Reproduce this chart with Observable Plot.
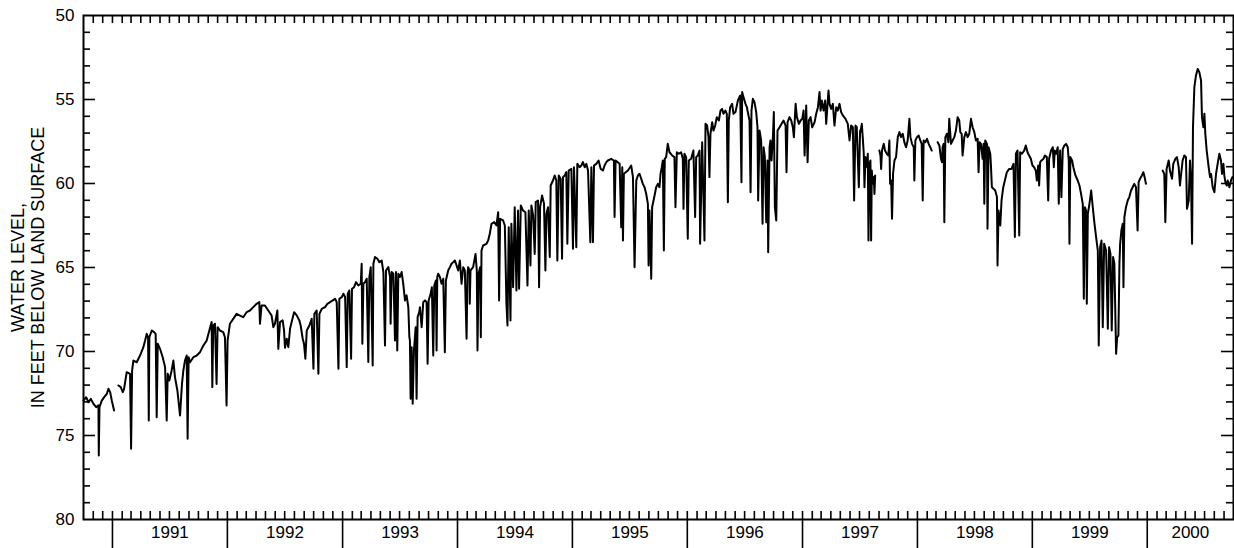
<!DOCTYPE html>
<html><head><meta charset="utf-8">
<script src="https://cdn.jsdelivr.net/npm/d3@7"></script>
<script src="https://cdn.jsdelivr.net/npm/@observablehq/plot@0.6"></script>
<style>html,body{margin:0;padding:0;background:#fff;} svg{display:block}</style>
</head><body><div id="chart"></div>
<script>
// Daily water level, feet below land surface; [decimal year, level]; null = gap in record
const trace1990_1992 = [
[1990.748,72.92],[1990.771,72.72],[1990.791,73.02],[1990.812,72.82],[1990.835,73.12],[1990.858,73.31],[1990.878,73.21],[1990.881,76.19],[1990.887,73.31],[1990.907,72.92],[1990.928,72.72],[1990.951,72.52],[1990.965,72.22],[1990.980,72.42],[1990.994,72.92],[1991.014,73.51],
[1991.033,null],
[1991.052,72.02],[1991.072,72.12],[1991.090,72.42],[1991.101,72.22],[1991.124,71.23],[1991.153,71.33],[1991.162,75.79],[1991.171,71.13],[1991.182,70.54],[1991.211,70.64],[1991.240,70.24],[1991.269,69.74],[1991.284,69.35],[1991.298,68.95],[1991.310,69.15],[1991.316,74.11],[1991.321,69.15],[1991.342,68.75],[1991.362,68.85],[1991.376,68.95],[1991.385,73.91],[1991.394,69.54],[1991.414,69.84],[1991.437,70.34],[1991.458,70.93],[1991.472,74.11],[1991.481,71.33],[1991.495,71.73],[1991.515,71.13],[1991.530,70.54],[1991.544,71.53],[1991.565,72.32],[1991.588,73.81],[1991.605,71.93],[1991.617,71.13],[1991.631,70.54],[1991.646,70.24],[1991.654,75.20],[1991.663,70.34],[1991.675,70.64],[1991.704,70.34],[1991.733,70.24],[1991.762,70.04],[1991.791,69.64],[1991.820,69.35],[1991.843,68.75],[1991.863,68.25],[1991.869,72.12],[1991.877,68.45],[1991.892,68.35],[1991.906,71.93],[1991.915,68.55],[1991.935,68.75],[1991.964,68.85],[1991.979,69.15],[1991.993,73.21],[1992.002,69.35],[1992.022,68.35],[1992.051,68.06],[1992.080,67.76],[1992.109,67.86],[1992.138,67.96],[1992.167,67.66],[1992.196,67.56],[1992.225,67.36],[1992.254,67.16],[1992.277,67.06],[1992.283,68.35],[1992.297,67.26],[1992.326,67.26],[1992.355,67.56],[1992.384,67.86]
];
const trace1992_1994 = [
[1992.399,68.55],[1992.413,68.35],[1992.434,67.56],[1992.442,69.84],[1992.457,68.25],[1992.480,68.15],[1992.492,68.75],[1992.500,69.78],[1992.515,69.24],[1992.529,69.74],[1992.544,68.65],[1992.558,68.25],[1992.579,67.66],[1992.602,67.85],[1992.625,68.15],[1992.636,68.45],[1992.654,69.24],[1992.665,69.54],[1992.677,70.43],[1992.689,68.75],[1992.712,68.45],[1992.732,68.05],[1992.747,71.03],[1992.755,67.76],[1992.775,67.56],[1992.790,71.33],[1992.799,67.76],[1992.819,67.46],[1992.848,67.36],[1992.868,67.16],[1992.891,67.06],[1992.915,66.96],[1992.935,66.86],[1992.949,67.06],[1992.964,71.03],[1992.972,66.86],[1992.993,66.76],
[1993.007,66.56],[1993.022,66.76],[1993.036,70.93],[1993.045,66.56],[1993.059,66.37],[1993.074,70.43],[1993.082,66.27],[1993.100,66.17],[1993.117,65.87],[1993.137,66.07],[1993.158,65.97],[1993.166,64.78],[1993.172,69.54],[1993.181,65.97],[1993.195,65.87],[1993.210,65.67],[1993.224,70.63],[1993.233,65.57],[1993.245,64.98],[1993.262,70.83],[1993.268,64.78],[1993.282,64.38],[1993.303,64.48],[1993.320,64.68],[1993.340,64.58],[1993.355,65.27],[1993.369,69.64],[1993.378,65.18],[1993.398,64.98],[1993.413,65.57],[1993.418,68.35],[1993.427,65.27],[1993.442,65.37],[1993.456,69.34],[1993.465,65.27],[1993.476,69.94],[1993.485,65.37],[1993.499,65.57],[1993.514,65.27],[1993.528,65.97],[1993.543,66.96],[1993.557,66.66],[1993.572,67.36],[1993.581,69.14],[1993.586,69.34],[1993.592,72.81],[1993.601,69.74],[1993.610,73.11],[1993.621,69.94],[1993.636,68.55],[1993.644,72.81],[1993.653,67.95],[1993.667,67.66],[1993.673,67.36],[1993.688,68.55],[1993.702,67.06],[1993.717,66.96],[1993.731,67.06],[1993.740,70.73],[1993.749,66.96],[1993.766,66.56],[1993.777,66.17],[1993.789,70.24],[1993.798,66.07],[1993.812,65.77],[1993.818,69.94],[1993.824,65.57],[1993.832,65.37],[1993.847,65.57],[1993.861,65.97],[1993.876,65.67],[1993.890,70.04],[1993.899,65.77],[1993.919,65.18],[1993.934,64.98],[1993.948,64.78],[1993.963,64.68],[1993.977,64.58],[1993.992,64.88],
[1994.006,65.18],[1994.021,64.58],[1994.035,65.97],[1994.050,64.98],[1994.064,65.18],[1994.079,69.24],[1994.087,65.37]
];
const trace1994_1995 = [
[1994.093,64.98],[1994.105,65.18],[1994.107,67.16],[1994.113,65.18],[1994.136,64.98],[1994.157,64.19],[1994.168,65.18],[1994.174,69.94],[1994.183,65.38],[1994.197,64.98],[1994.203,69.15],[1994.209,63.99],[1994.223,63.69],[1994.252,63.59],[1994.267,63.39],[1994.281,62.99],[1994.296,62.40],[1994.319,62.30],[1994.339,62.50],[1994.354,61.71],[1994.362,66.96],[1994.371,62.10],[1994.397,62.20],[1994.412,62.50],[1994.426,67.16],[1994.435,68.45],[1994.446,62.60],[1994.461,68.15],[1994.469,62.40],[1994.484,66.17],[1994.498,61.41],[1994.513,66.37],[1994.527,61.61],[1994.536,66.27],[1994.551,61.31],[1994.571,61.61],[1994.591,61.71],[1994.609,66.07],[1994.620,61.61],[1994.635,64.88],[1994.643,61.31],[1994.658,61.90],[1994.672,64.19],[1994.681,61.11],[1994.701,61.01],[1994.710,66.17],[1994.719,61.41],[1994.736,60.71],[1994.753,61.21],[1994.765,65.18],[1994.774,61.80],[1994.788,61.41],[1994.803,64.38],[1994.811,60.12],[1994.831,59.82],[1994.846,59.52],[1994.860,59.82],[1994.869,64.58],[1994.881,59.52],[1994.898,59.72],[1994.910,64.48],[1994.918,59.62],[1994.933,59.52],[1994.947,59.32],[1994.956,63.59],[1994.968,59.23],[1994.991,59.13],
[1995.005,63.89],[1995.014,59.03],[1995.034,63.79],[1995.043,58.83],[1995.063,59.03],[1995.078,58.93],[1995.092,58.73],[1995.107,59.03],[1995.121,58.83],[1995.136,59.23],[1995.156,63.49],[1995.165,59.03],[1995.179,63.49],[1995.188,58.93],[1995.208,58.83],[1995.228,58.63],[1995.246,59.13],[1995.266,59.23],[1995.280,58.93],[1995.295,58.73],[1995.309,58.63],[1995.338,58.53],[1995.361,58.63],[1995.367,62.00],[1995.376,58.63],[1995.411,58.83],[1995.425,62.60],[1995.434,59.03],[1995.440,63.39],[1995.448,59.42],[1995.483,59.23],[1995.512,58.93],[1995.527,59.62],[1995.541,64.98],[1995.556,59.82],[1995.570,59.52],[1995.584,59.42],[1995.599,59.72],[1995.613,60.02],[1995.628,60.22],[1995.642,60.61],[1995.657,61.21],[1995.663,64.88],[1995.671,61.61],[1995.686,65.67],[1995.694,61.41],[1995.715,60.71],[1995.729,60.22],[1995.744,60.02],[1995.758,60.22],[1995.767,59.42],[1995.778,59.03]
];
const trace1995_1997 = [
[1995.787,58.63],[1995.796,63.99],[1995.804,58.53],[1995.816,58.43],[1995.830,57.64],[1995.845,58.14],[1995.868,58.33],[1995.888,58.43],[1995.897,61.41],[1995.909,58.14],[1995.926,58.23],[1995.946,58.14],[1995.961,58.53],[1995.967,61.51],[1995.975,58.23],[1995.990,58.43],
[1996.004,63.29],[1996.013,58.63],[1996.033,58.53],[1996.053,58.04],[1996.068,62.00],[1996.077,58.43],[1996.091,58.33],[1996.106,58.04],[1996.111,63.59],[1996.129,57.54],[1996.149,63.39],[1996.158,56.45],[1996.172,56.55],[1996.184,57.24],[1996.192,59.62],[1996.201,57.04],[1996.216,56.35],[1996.227,56.85],[1996.242,56.55],[1996.256,56.05],[1996.274,56.25],[1996.288,55.66],[1996.302,55.56],[1996.314,55.85],[1996.331,55.66],[1996.343,55.85],[1996.352,61.11],[1996.360,56.25],[1996.372,55.46],[1996.389,55.26],[1996.401,55.85],[1996.418,55.75],[1996.439,55.06],[1996.459,54.76],[1996.470,59.92],[1996.476,54.56],[1996.488,54.86],[1996.505,55.26],[1996.517,55.46],[1996.528,55.85],[1996.540,56.25],[1996.549,60.52],[1996.557,55.66],[1996.569,54.96],[1996.583,55.16],[1996.598,55.75],[1996.609,56.65],[1996.615,61.01],[1996.627,56.85],[1996.641,57.44],[1996.653,62.40],[1996.662,57.84],[1996.673,58.43],[1996.685,62.30],[1996.696,58.63],[1996.702,64.09],[1996.714,57.84],[1996.722,57.44],[1996.731,58.63],[1996.743,57.24],[1996.751,55.75],[1996.760,61.41],[1996.772,62.20],[1996.783,56.85],[1996.801,56.65],[1996.818,56.45],[1996.835,56.25],[1996.853,56.55],[1996.861,59.33],[1996.870,56.35],[1996.887,56.05],[1996.902,56.25],[1996.916,56.65],[1996.925,57.24],[1996.940,55.26],[1996.951,56.05],[1996.969,56.45],[1996.983,56.25],[1996.998,56.15],
[1997.009,55.66],[1997.018,58.33],[1997.032,55.36],[1997.044,58.73],[1997.055,56.25],[1997.070,56.05],[1997.084,56.65],[1997.105,56.35],[1997.119,55.85],[1997.134,55.46],[1997.148,54.56],[1997.157,55.66],[1997.168,55.06],[1997.183,55.66],[1997.197,55.06],[1997.206,56.45],[1997.226,54.47],[1997.235,55.26],[1997.249,55.56],[1997.264,55.26],[1997.278,56.55],[1997.293,55.46],[1997.307,55.66],[1997.322,55.26],[1997.336,55.75],[1997.351,55.95],[1997.374,56.15],[1997.394,56.45],[1997.409,57.44],[1997.423,56.55],[1997.438,56.65],[1997.449,61.01],[1997.461,56.55],[1997.472,56.65],[1997.490,60.22],[1997.501,56.85]
];
const trace1997_1999 = [
[1997.504,56.94],[1997.516,56.45],[1997.524,57.24],[1997.533,58.23],[1997.539,60.22],[1997.548,58.43],[1997.562,59.03],[1997.568,58.23],[1997.574,63.39],[1997.582,58.83],[1997.591,58.63],[1997.597,63.39],[1997.603,59.23],[1997.611,60.02],[1997.620,59.62],[1997.626,60.62],[1997.632,59.52],
[1997.650,null],
[1997.669,58.04],[1997.678,58.33],[1997.684,59.13],[1997.692,58.04],[1997.707,57.64],[1997.718,58.04],[1997.733,58.23],[1997.747,58.33],[1997.756,57.44],[1997.762,60.02],[1997.771,59.82],[1997.779,62.10],[1997.788,59.42],[1997.800,58.63],[1997.814,58.43],[1997.829,57.24],[1997.843,56.94],[1997.857,57.24],[1997.872,57.04],[1997.886,57.54],[1997.901,57.84],[1997.915,57.44],[1997.930,56.15],[1997.939,57.24],[1997.953,57.64],[1997.968,57.84],[1997.973,59.82],[1997.982,57.44],[1997.996,57.24],
[1998.011,57.14],[1998.025,57.44],[1998.037,57.64],[1998.046,61.01],[1998.054,57.44],[1998.069,57.54],[1998.083,57.34],[1998.098,57.64],[1998.112,57.84],[1998.124,58.04],
[1998.150,null],
[1998.176,57.54],[1998.191,57.74],[1998.205,58.53],[1998.214,58.73],[1998.219,57.84],[1998.228,57.64],[1998.234,62.30],[1998.243,57.24],[1998.257,57.04],[1998.269,57.54],[1998.277,56.15],[1998.292,57.64],[1998.306,57.44],[1998.321,57.24],[1998.335,56.85],[1998.350,56.05],[1998.364,56.25],[1998.373,56.94],[1998.385,57.04],[1998.393,58.33],[1998.408,57.24],[1998.422,56.94],[1998.437,57.24],[1998.451,57.04],[1998.466,56.15],[1998.480,56.65],[1998.495,56.94],[1998.509,57.44],[1998.524,57.34],[1998.532,59.33],[1998.541,57.54],[1998.553,57.64],[1998.567,58.53],[1998.576,57.64],[1998.582,61.21],[1998.590,57.44],[1998.605,57.64],[1998.610,62.70],[1998.619,57.84],[1998.634,58.23],[1998.639,58.83],[1998.648,60.22],[1998.663,60.32],[1998.677,60.42],[1998.692,60.81],[1998.697,64.88],[1998.706,61.61],[1998.721,62.50],[1998.732,61.01],[1998.747,60.22],[1998.761,59.82],[1998.778,59.33],[1998.799,59.13],[1998.819,59.13],[1998.836,58.83],[1998.848,63.19],[1998.857,58.23],[1998.871,58.04],[1998.886,63.09],[1998.894,58.14],[1998.909,58.23],[1998.929,58.04],[1998.943,57.74],[1998.958,58.14],[1998.972,58.33],[1998.987,58.53],
[1999.001,58.93],[1999.016,59.03],[1999.030,59.23],[1999.039,59.82],[1999.051,58.93],[1999.059,60.12],[1999.068,58.73],[1999.080,58.63],[1999.097,58.53],[1999.109,58.33],[1999.126,58.43],[1999.138,61.01],[1999.146,58.53]
];
const trace1999_2000 = [
[1999.163,58.04],[1999.178,57.84],[1999.187,59.03],[1999.195,58.04],[1999.207,58.23],[1999.221,57.84],[1999.230,61.21],[1999.242,58.04],[1999.253,60.81],[1999.265,57.94],[1999.279,57.74],[1999.294,57.64],[1999.308,57.84],[1999.317,58.63],[1999.323,63.59],[1999.331,58.43],[1999.346,58.63],[1999.357,59.03],[1999.375,59.52],[1999.395,59.82],[1999.410,60.12],[1999.424,60.62],[1999.439,61.21],
[1999.448,66.86],[1999.457,61.41],[1999.468,61.61],[1999.474,67.16],[1999.483,61.81],[1999.497,61.21],[1999.512,60.42],[1999.526,61.41],[1999.541,62.40],[1999.555,63.19],[1999.570,63.99],[1999.578,69.64],[1999.590,63.79],[1999.602,63.39],[1999.613,68.55],[1999.625,63.59],[1999.642,63.99],[1999.657,68.65],[1999.668,63.79],[1999.680,64.19],[1999.691,68.75],[1999.703,64.38],[1999.714,64.78],[1999.729,70.14],[1999.738,69.15],[1999.749,69.05],[1999.758,64.78],[1999.764,63.59],[1999.775,62.80],[1999.787,62.40],[1999.793,66.17],[1999.801,62.00],
[1999.815,61.41],[1999.830,61.01],[1999.844,60.81],[1999.859,60.42],[1999.873,60.22],[1999.887,60.02],[1999.902,60.22],[1999.916,62.80],[1999.925,59.92],[1999.937,59.72],[1999.954,59.52],[1999.966,59.33],[1999.974,59.52],[1999.989,60.02],
[2000.060,null],
[2000.134,59.23],[2000.148,59.43],[2000.157,62.30],[2000.168,59.13],[2000.186,58.63],[2000.197,59.23],[2000.215,59.72],[2000.226,58.83],[2000.244,58.53],[2000.258,58.43],[2000.273,59.03],[2000.284,60.12],[2000.296,59.33],[2000.307,58.63],[2000.322,58.33],[2000.336,58.43],[2000.345,61.51],[2000.360,61.01],[2000.371,58.63],[2000.380,59.82],[2000.389,63.59],[2000.397,56.65],[2000.409,54.27],[2000.423,53.57],[2000.438,53.18],[2000.452,53.37],[2000.467,53.87],[2000.475,56.05],[2000.487,56.65],[2000.496,55.85],[2000.504,57.04],[2000.516,58.04],[2000.533,59.03],[2000.545,59.62],[2000.554,59.43],[2000.568,60.22],[2000.583,60.52],[2000.597,59.43],[2000.611,58.83],[2000.626,58.23],[2000.640,58.63],[2000.649,59.43],[2000.661,58.83],[2000.669,59.52],[2000.678,59.92],[2000.690,60.12],[2000.698,59.82],[2000.713,60.22],[2000.727,59.82],[2000.739,59.62]
];
const periodStart = "1990-10-01", periodEnd = "2000-10-01";
const levelDomain = [50, 80];
const yLabelValues = [50, 55, 60, 65, 70, 75, 80];
const yTitle = ["WATER LEVEL,", "IN FEET BELOW LAND SURFACE"];

// ---- build ----
const toDate = t => {
  const y = Math.floor(t), a = Date.UTC(y, 0, 1), b = Date.UTC(y + 1, 0, 1);
  return new Date(a + (t - y) * (b - a));
};
const series = [...trace1990_1992, ...trace1992_1994, ...trace1994_1995, ...trace1995_1997, ...trace1997_1999, ...trace1999_2000]
  .map(([t, v]) => ({date: toDate(t), level: v}));

const W = 1234, H = 548, mL = 83, mR = 1, mT = 15, mB = 29;
const pw = W - mL - mR, ph = H - mT - mB;
const x0 = new Date(periodStart), x1 = new Date(periodEnd);
const months = d3.utcMonth.range(d3.utcMonth.offset(x0, 1), x1);
const years = d3.utcYear.range(d3.utcYear.ceil(x0), x1);
const yearSpans = d3.utcYear.range(d3.utcYear.floor(x0), x1).map(y => {
  const a = y < x0 ? x0 : y, n = d3.utcYear.offset(y, 1), b = n > x1 ? x1 : n;
  return {mid: new Date((+a + +b) / 2), label: String(y.getUTCFullYear()), len: b - a};
}).filter(d => d.len > 200 * 864e5);
const minorY = d3.range(levelDomain[0] + 1, levelDomain[1]).filter(v => v % 5 !== 0);
const majorY = yLabelValues.filter(v => v > levelDomain[0] && v < levelDomain[1]);
const tk = {stroke: "black", strokeWidth: 1.6};

const chart = Plot.plot({
  width: W, height: H,
  marginLeft: mL, marginRight: mR, marginTop: mT, marginBottom: mB,
  style: {fontFamily: "'Liberation Sans', Arial, Helvetica, sans-serif", fontSize: "17px", color: "black", background: "white"},
  x: {type: "utc", domain: [x0, x1], axis: null},
  y: {domain: levelDomain, reverse: true, axis: null},
  marks: [
    Plot.line(series, {x: "date", y: "level", stroke: "black", strokeWidth: 2, strokeLinejoin: "round"}),
    // inward ticks: left and right
    Plot.tickY(minorY, {y: d => d, insetRight: pw - 7, ...tk}),
    Plot.tickY(majorY, {y: d => d, insetRight: pw - 12, ...tk}),
    Plot.tickY(minorY, {y: d => d, insetLeft: pw - 7, ...tk}),
    Plot.tickY(majorY, {y: d => d, insetLeft: pw - 12, ...tk}),
    // inward month ticks: top and bottom
    Plot.tickX(months, {x: d => d, insetBottom: ph - 8, ...tk}),
    Plot.tickX(months, {x: d => d, insetTop: ph - 8, ...tk}),
    // year boundary ticks below the frame
    Plot.axisX(years, {x: d => d, tickSize: 29, tickFormat: () => "", strokeWidth: 1.6}),
    Plot.frame({stroke: "black", strokeWidth: 2}),
    Plot.text(yLabelValues, {y: d => d, text: d => String(d), frameAnchor: "left", textAnchor: "end", dx: -9, fontSize: 17}),
    Plot.text(yearSpans, {x: "mid", text: "label", frameAnchor: "bottom", dy: 18, fontSize: 17}),
    Plot.text([yTitle.join("\n")], {text: d => d, frameAnchor: "left", textAnchor: "middle", rotate: -90, dx: -56, lineHeight: 1.15, fontSize: 18})
  ]
});
document.getElementById("chart").appendChild(chart);
</script>
</body></html>
